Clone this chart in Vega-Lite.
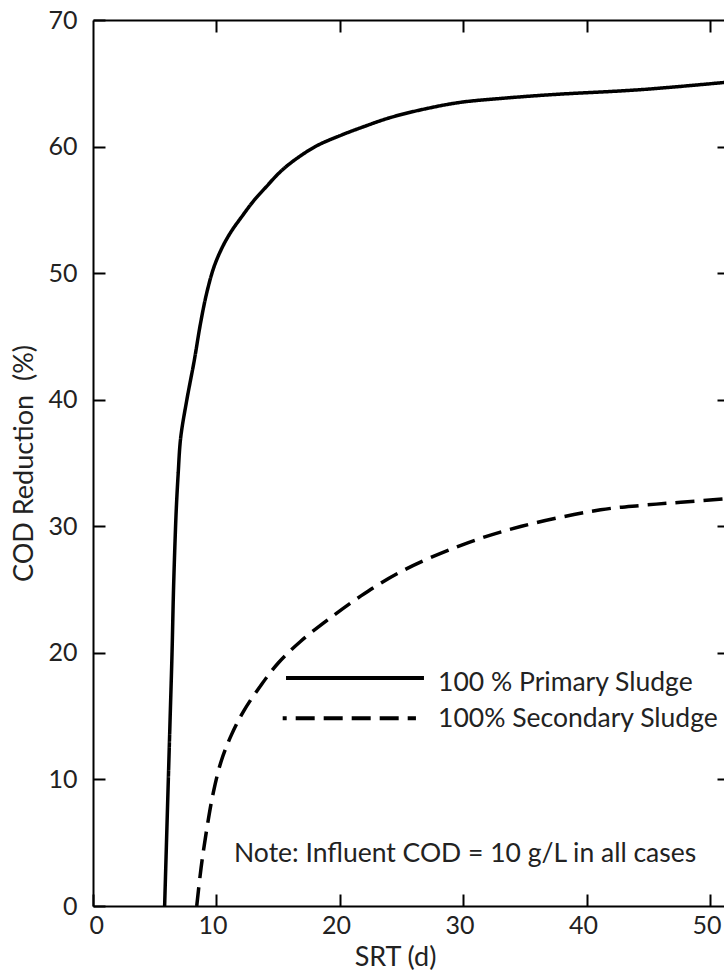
{
  "$schema": "https://vega.github.io/schema/vega-lite/v6.json",
  "width": 636,
  "height": 886,
  "autosize": {"type": "none"},
  "padding": {"left": 93, "top": 20, "right": 0, "bottom": 68},
  "background": "white",
  "config": {
    "view": {"stroke": null},
    "axis": {
      "domainColor": "black",
      "domainWidth": 2,
      "tickColor": "black",
      "tickWidth": 2,
      "grid": false,
      "labelColor": "#222",
      "labelFont": "Lato",
      "labelFontSize": 25,
      "titleFont": "Lato",
      "titleFontSize": 27,
      "titleFontWeight": "normal",
      "titleColor": "#222"
    }
  },
  "data": {
    "values": [
      {"series": "100 % Primary Sludge", "srt": 5.8, "cod": 0},
      {"series": "100 % Primary Sludge", "srt": 5.95, "cod": 5},
      {"series": "100 % Primary Sludge", "srt": 6.1, "cod": 10},
      {"series": "100 % Primary Sludge", "srt": 6.25, "cod": 15},
      {"series": "100 % Primary Sludge", "srt": 6.4, "cod": 20},
      {"series": "100 % Primary Sludge", "srt": 6.52, "cod": 25},
      {"series": "100 % Primary Sludge", "srt": 6.65, "cod": 29},
      {"series": "100 % Primary Sludge", "srt": 6.75, "cod": 31.5},
      {"series": "100 % Primary Sludge", "srt": 6.9, "cod": 34.2},
      {"series": "100 % Primary Sludge", "srt": 7.1, "cod": 37},
      {"series": "100 % Primary Sludge", "srt": 7.6, "cod": 40},
      {"series": "100 % Primary Sludge", "srt": 8.2, "cod": 43.1},
      {"series": "100 % Primary Sludge", "srt": 8.7, "cod": 46.0},
      {"series": "100 % Primary Sludge", "srt": 9.2, "cod": 48.4},
      {"series": "100 % Primary Sludge", "srt": 9.8, "cod": 50.5},
      {"series": "100 % Primary Sludge", "srt": 10.5, "cod": 52.1},
      {"series": "100 % Primary Sludge", "srt": 11.2, "cod": 53.3},
      {"series": "100 % Primary Sludge", "srt": 12.0, "cod": 54.4},
      {"series": "100 % Primary Sludge", "srt": 13.0, "cod": 55.7},
      {"series": "100 % Primary Sludge", "srt": 14.1, "cod": 56.9},
      {"series": "100 % Primary Sludge", "srt": 15.0, "cod": 57.85},
      {"series": "100 % Primary Sludge", "srt": 16.0, "cod": 58.7},
      {"series": "100 % Primary Sludge", "srt": 18.0, "cod": 60.0},
      {"series": "100 % Primary Sludge", "srt": 20.1, "cod": 60.9},
      {"series": "100 % Primary Sludge", "srt": 22.0, "cod": 61.6},
      {"series": "100 % Primary Sludge", "srt": 24.1, "cod": 62.3},
      {"series": "100 % Primary Sludge", "srt": 27.0, "cod": 63.0},
      {"series": "100 % Primary Sludge", "srt": 29.8, "cod": 63.5},
      {"series": "100 % Primary Sludge", "srt": 33.0, "cod": 63.8},
      {"series": "100 % Primary Sludge", "srt": 37.1, "cod": 64.1},
      {"series": "100 % Primary Sludge", "srt": 44.4, "cod": 64.5},
      {"series": "100 % Primary Sludge", "srt": 51.5, "cod": 65.1},
      {"series": "100% Secondary Sludge", "srt": 8.4, "cod": 0},
      {"series": "100% Secondary Sludge", "srt": 8.75, "cod": 3},
      {"series": "100% Secondary Sludge", "srt": 9.2, "cod": 6},
      {"series": "100% Secondary Sludge", "srt": 9.75, "cod": 9},
      {"series": "100% Secondary Sludge", "srt": 10.4, "cod": 11.5},
      {"series": "100% Secondary Sludge", "srt": 11.2, "cod": 13.5},
      {"series": "100% Secondary Sludge", "srt": 12.2, "cod": 15.4},
      {"series": "100% Secondary Sludge", "srt": 13.5, "cod": 17.3},
      {"series": "100% Secondary Sludge", "srt": 15.0, "cod": 19.2},
      {"series": "100% Secondary Sludge", "srt": 16.8, "cod": 20.9},
      {"series": "100% Secondary Sludge", "srt": 19.0, "cod": 22.6},
      {"series": "100% Secondary Sludge", "srt": 21.7, "cod": 24.5},
      {"series": "100% Secondary Sludge", "srt": 24.9, "cod": 26.4},
      {"series": "100% Secondary Sludge", "srt": 29.8, "cod": 28.5},
      {"series": "100% Secondary Sludge", "srt": 34.7, "cod": 30.0},
      {"series": "100% Secondary Sludge", "srt": 41.1, "cod": 31.3},
      {"series": "100% Secondary Sludge", "srt": 44.4, "cod": 31.65},
      {"series": "100% Secondary Sludge", "srt": 47.6, "cod": 31.9},
      {"series": "100% Secondary Sludge", "srt": 51.5, "cod": 32.2}
    ]
  },
  "layer": [
    {
      "mark": {"type": "line", "color": "black", "strokeWidth": 3.5, "clip": true, "interpolate": "catmull-rom"},
      "encoding": {
        "x": {
          "field": "srt", "type": "quantitative",
          "scale": {"domain": [0, 51.5], "nice": false, "zero": false},
          "axis": {"orient": "bottom", "values": [0, 10, 20, 30, 40, 50], "tickSize": -12, "labelPadding": 19, "labelOffset": -4, "title": "SRT (d)", "titlePadding": 6, "titleX": 302}
        },
        "y": {
          "field": "cod", "type": "quantitative",
          "scale": {"domain": [0, 70], "nice": false},
          "axis": {"orient": "left", "values": [0, 10, 20, 30, 40, 50, 60, 70], "tickSize": -12, "labelPadding": 28, "title": "COD Reduction\u00a0 (%)", "titlePadding": 9}
        },
        "strokeDash": {
          "field": "series", "type": "nominal",
          "scale": {"domain": ["100 % Primary Sludge", "100% Secondary Sludge"], "range": [[1, 0], [19, 9]]},
          "legend": null
        }
      }
    },
    {
      "data": {"values": [{}]},
      "mark": {"type": "text", "align": "left", "baseline": "alphabetic", "font": "Lato", "fontSize": 26.5, "color": "#222"},
      "encoding": {
        "x": {"datum": 11.42, "type": "quantitative", "axis": {"orient": "top", "values": [10, 20, 30, 40, 50], "tickSize": -12, "labels": false, "title": null}},
        "y": {"datum": 3.48, "type": "quantitative", "axis": {"orient": "right", "values": [10, 20, 30, 40, 50, 60], "tickSize": -12, "labels": false, "title": null}},
        "text": {"value": "Note: Influent COD = 10 g/L in all cases"}
      }
    },
    {
      "data": {"values": [{}]},
      "mark": {"type": "rule", "color": "black", "strokeWidth": 4},
      "encoding": {
        "x": {"datum": 15.63, "type": "quantitative", "axis": null},
        "x2": {"datum": 26.8},
        "y": {"datum": 18.01, "type": "quantitative", "axis": null}
      }
    },
    {
      "data": {"values": [{}]},
      "mark": {"type": "rule", "color": "black", "strokeWidth": 4, "strokeDash": [19, 9], "strokeDashOffset": 15},
      "encoding": {
        "x": {"datum": 15.36, "type": "quantitative", "axis": null},
        "x2": {"datum": 26.15},
        "y": {"datum": 14.83, "type": "quantitative", "axis": null}
      }
    },
    {
      "data": {"values": [{}]},
      "mark": {"type": "text", "align": "left", "baseline": "alphabetic", "font": "Lato", "fontSize": 26.5, "color": "#222"},
      "encoding": {
        "x": {"datum": 27.94, "type": "quantitative", "axis": null},
        "y": {"datum": 16.96, "type": "quantitative", "axis": null},
        "text": {"value": "100 % Primary Sludge"}
      }
    },
    {
      "data": {"values": [{}]},
      "mark": {"type": "text", "align": "left", "baseline": "alphabetic", "font": "Lato", "fontSize": 26.5, "color": "#222"},
      "encoding": {
        "x": {"datum": 27.94, "type": "quantitative", "axis": null},
        "y": {"datum": 14.16, "type": "quantitative", "axis": null},
        "text": {"value": "100% Secondary Sludge"}
      }
    }
  ],
  "resolve": {"axis": {"x": "independent", "y": "independent"}}
}
